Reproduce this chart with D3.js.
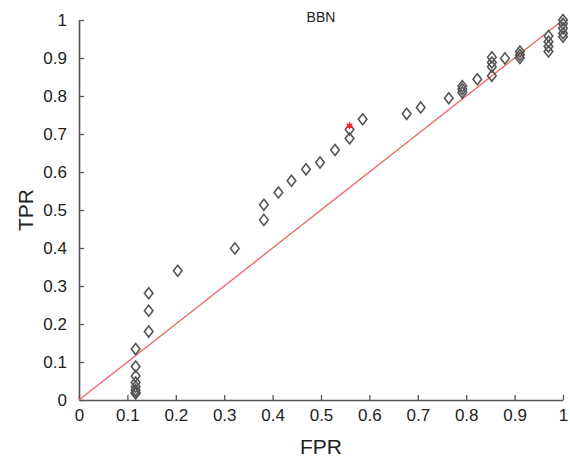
<!DOCTYPE html>
<html>
<head>
<meta charset="utf-8">
<script src="https://cdn.jsdelivr.net/npm/d3@7"></script>
<style>
  body { margin: 0; background: #fff; }
  text { font-family: Arial, "Liberation Sans", sans-serif; fill: #222; }
</style>
</head>
<body>
<div id="chart"></div>
<script>
// ROC points (FPR, TPR).
const fpr = [
  0.117, 0.117, 0.117, 0.117, 0.117, 0.117, 0.117, 0.117,
  0.144, 0.144, 0.144,
  0.204, 0.322, 0.382, 0.382, 0.412, 0.439, 0.469, 0.498, 0.529,
  0.559, 0.559, 0.586, 0.677, 0.706, 0.764,
  0.792, 0.792, 0.792, 0.823,
  0.853, 0.853, 0.853, 0.853, 0.880,
  0.911, 0.911, 0.911,
  0.970, 0.970, 0.970, 0.970,
  1.0, 1.0, 1.0, 1.0, 1.0
];
const tpr = [
  0.134, 0.088, 0.063, 0.046, 0.035, 0.026, 0.020, 0.017,
  0.281, 0.235, 0.180,
  0.340, 0.399, 0.514, 0.474, 0.546, 0.577, 0.607, 0.625, 0.658,
  0.688, 0.712, 0.739, 0.753, 0.770, 0.794,
  0.826, 0.818, 0.809, 0.844,
  0.902, 0.888, 0.877, 0.853, 0.899,
  0.917, 0.908, 0.900,
  0.958, 0.943, 0.930, 0.917,
  1.0, 0.99, 0.978, 0.965, 0.956
];

// Chosen operating point (red star)
const starFpr = [0.559];
const starTpr = [0.722];

// Chance diagonal
const diagX = [0, 1];
const diagY = [0, 1];

const tickValues = [0, 0.1, 0.2, 0.3, 0.4, 0.5, 0.6, 0.7, 0.8, 0.9, 1];
const tickLabels = ["0", "0.1", "0.2", "0.3", "0.4", "0.5", "0.6", "0.7", "0.8", "0.9", "1"];

const width = 570;
const height = 460;
const margin = { top: 20, right: 7, bottom: 60, left: 79 };

const svg = d3.select("#chart").append("svg")
    .attr("width", width)
    .attr("height", height);

const x = d3.scaleLinear().domain([0, 1]).range([margin.left, width - margin.right]);
const y = d3.scaleLinear().domain([0, 1]).range([height - margin.bottom, margin.top]);

const fmt = (d, i) => tickLabels[i];

// Axes: MATLAB style, ticks pointing inward
const xAxis = svg.append("g")
    .attr("transform", `translate(0,${height - margin.bottom})`)
    .call(d3.axisBottom(x).tickValues(tickValues).tickFormat(fmt).tickSizeInner(-5).tickSizeOuter(0).tickPadding(9));

const yAxis = svg.append("g")
    .attr("transform", `translate(${margin.left},0)`)
    .call(d3.axisLeft(y).tickValues(tickValues).tickFormat(fmt).tickSizeInner(-5).tickSizeOuter(0).tickPadding(12));

[xAxis, yAxis].forEach(g => {
    g.attr("font-size", 17);
    g.select(".domain").attr("stroke", "#555").attr("stroke-width", 1.6);
    g.selectAll(".tick line").attr("stroke", "#555").attr("stroke-width", 1.3);
    g.selectAll(".tick text").attr("fill", "#222");
});

// Diagonal
svg.append("line")
    .attr("x1", x(diagX[0])).attr("y1", y(diagY[0]))
    .attr("x2", x(diagX[1])).attr("y2", y(diagY[1]))
    .attr("stroke", "#f06a6a")
    .attr("stroke-width", 1.4);

// Diamond markers, a little taller than wide
const tallDiamond = {
    draw(ctx) {
        ctx.moveTo(0, -5.5);
        ctx.lineTo(4.3, 0);
        ctx.lineTo(0, 5.5);
        ctx.lineTo(-4.3, 0);
        ctx.closePath();
    }
};
const pts = fpr.map((f, i) => ({ f, t: tpr[i] }));

svg.selectAll("path.pt")
    .data(pts)
    .enter()
    .append("path")
    .attr("class", "pt")
    .attr("d", d3.symbol().type(tallDiamond))
    .attr("transform", d => `translate(${x(d.f)},${y(d.t)})`)
    .attr("fill", "none")
    .attr("stroke", "#555")
    .attr("stroke-width", 1.6);

// Red star
svg.selectAll("path.star")
    .data(starFpr.map((f, i) => ({ f, t: starTpr[i] })))
    .enter()
    .append("path")
    .attr("class", "star")
    .attr("d", d3.symbol().type(d3.symbolAsterisk).size(30))
    .attr("transform", d => `translate(${x(d.f)},${y(d.t)})`)
    .attr("fill", "none")
    .attr("stroke", "#ff2020")
    .attr("stroke-width", 1.5);

// Title and axis labels
svg.append("text")
    .attr("x", x(0.5))
    .attr("y", 22)
    .attr("text-anchor", "middle")
    .attr("font-size", 14)
    .text("BBN");

svg.append("text")
    .attr("x", x(0.5))
    .attr("y", 454)
    .attr("text-anchor", "middle")
    .attr("font-size", 21)
    .text("FPR");

svg.append("text")
    .attr("transform", `translate(33,${y(0.5)}) rotate(-90)`)
    .attr("text-anchor", "middle")
    .attr("font-size", 21)
    .text("TPR");
</script>
</body>
</html>
